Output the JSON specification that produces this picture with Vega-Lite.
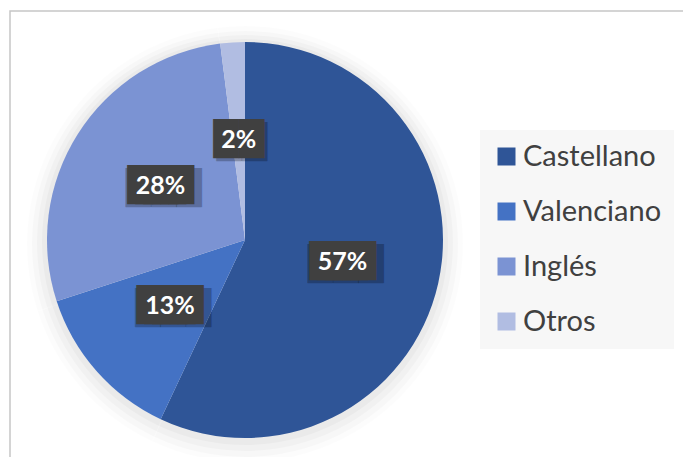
{
  "$schema": "https://vega.github.io/schema/vega-lite/v6.json",
  "autosize": "none",
  "width": 700,
  "height": 472,
  "padding": {"left": 10, "top": 11, "right": -27, "bottom": -26},
  "background": "white",
  "view": {"stroke": "#C6C6C6", "strokeWidth": 1.5},
  "config": {
    "legend": {
      "orient": "none",
      "legendX": 470,
      "legendY": 119,
      "fillColor": "#F7F7F7",
      "padding": 12,
      "labelFont": "Lato",
      "labelFontSize": 29,
      "labelColor": "#404040",
      "labelLimit": 400,
      "labelOffset": 2,
      "symbolType": "square",
      "symbolSize": 324,
      "symbolStrokeWidth": 0,
      "symbolOpacity": 1,
      "rowPadding": 25
    }
  },
  "data": {
    "values": [
      {"idioma": "Castellano", "valor": 0.57},
      {"idioma": "Valenciano", "valor": 0.13},
      {"idioma": "Inglés", "valor": 0.28},
      {"idioma": "Otros", "valor": 0.02}
    ]
  },
  "transform": [{"window": [{"op": "row_number", "as": "orden"}]}],
  "encoding": {
    "theta": {"field": "valor", "type": "quantitative", "stack": true},
    "order": {"field": "orden", "type": "quantitative"}
  },
  "layer": [
    {"mark": {"type": "arc", "radius": 218, "x": 235, "y": 233, "fill": "#000000", "fillOpacity": 0.012}},
    {"mark": {"type": "arc", "radius": 213, "x": 235, "y": 233, "fill": "#000000", "fillOpacity": 0.018}},
    {"mark": {"type": "arc", "radius": 208, "x": 235, "y": 232, "fill": "#000000", "fillOpacity": 0.022}},
    {"mark": {"type": "arc", "radius": 203, "x": 235, "y": 231, "fill": "#000000", "fillOpacity": 0.028}},
    {
      "mark": {"type": "arc", "radius": 198, "x": 235, "y": 229},
      "encoding": {
        "color": {
          "field": "idioma",
          "type": "nominal",
          "title": null,
          "scale": {
            "domain": ["Castellano", "Valenciano", "Inglés", "Otros"],
            "range": ["#2F5597", "#4472C4", "#7B93D3", "#B1BDE2"]
          }
        }
      }
    },
    {
      "mark": {"type": "text", "radius": 100, "x": 238, "y": 232, "font": "DejaVu Sans", "fontSize": 33, "fill": "#000000", "fillOpacity": 0.25, "align": "center", "baseline": "middle"},
      "encoding": {"text": {"condition": {"test": "datum.valor < 0.1", "value": "██"}, "value": ""}}
    },
    {
      "mark": {"type": "text", "radius": 100, "x": 238, "y": 232, "font": "DejaVu Sans", "fontSize": 33, "fill": "#000000", "fillOpacity": 0.25, "align": "center", "baseline": "middle"},
      "encoding": {"text": {"condition": {"test": "datum.valor < 0.1", "value": ""}, "value": "███"}}
    },
    {
      "mark": {"type": "text", "radius": 100, "x": 235, "y": 229, "font": "DejaVu Sans", "fontSize": 33, "fill": "#404040", "align": "center", "baseline": "middle"},
      "encoding": {"text": {"value": "██"}}
    },
    {
      "mark": {"type": "text", "radius": 100, "x": 235, "y": 229, "dx": -8, "font": "DejaVu Sans", "fontSize": 33, "fill": "#404040", "align": "center", "baseline": "middle"},
      "encoding": {"text": {"condition": {"test": "datum.valor < 0.1", "value": ""}, "value": "██"}}
    },
    {
      "mark": {"type": "text", "radius": 100, "x": 235, "y": 229, "dx": 8, "font": "DejaVu Sans", "fontSize": 33, "fill": "#404040", "align": "center", "baseline": "middle"},
      "encoding": {"text": {"condition": {"test": "datum.valor < 0.1", "value": ""}, "value": "██"}}
    },
    {
      "mark": {"type": "text", "radius": 100, "x": 235, "y": 229, "font": "Lato", "fontWeight": "bold", "fontSize": 25, "fill": "#FFFFFF", "align": "center", "baseline": "middle"},
      "encoding": {"text": {"field": "valor", "type": "quantitative", "format": ".0%"}}
    }
  ]
}
